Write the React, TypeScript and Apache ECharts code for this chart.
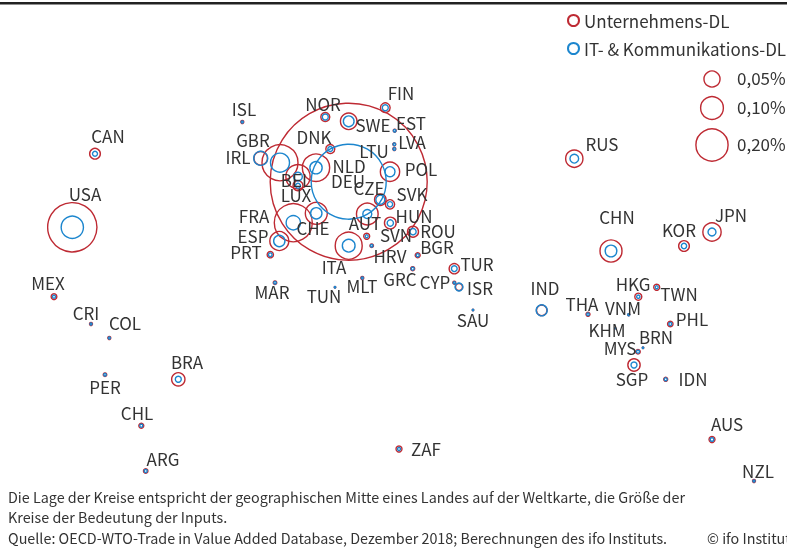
import React, { useEffect, useRef } from "react";
import * as echarts from "echarts";

const FONT = '"Noto Sans CJK SC", "Noto Sans", sans-serif';
const RED = "#BE2A33";
const BLUE = "#1C86CE";
const TEXT = "#333333";

const countries = ["ISL","NOR","SWE","FIN","EST","LVA","LTU","GBR","IRL","DNK","NLD","DEU","POL","BEL","LUX","CZE","SVK","CHE","AUT","HUN","FRA","ESP","PRT","ITA","SVN","ROU","HRV","BGR","GRC","TUR","CYP","ISR","MAR","MLT","TUN","SAU","CHN","JPN","KOR","HKG","TWN","IND","THA","VNM","PHL","KHM","BRN","MYS","SGP","IDN","CAN","USA","MEX","CRI","COL","PER","BRA","CHL","ARG","RUS","AUS","ZAF","NZL"];
const mapX = [242.3,325.3,348.7,385.3,394.7,394.3,394.3,280,260.7,330.3,316,348.7,390,298,298,380.3,390,316.3,367.3,390.3,293.3,279.3,270.3,348.7,366.7,413,371.7,417.7,412.7,454.3,454.3,459,275,362.3,335,473,611,712,684,638.3,656.7,541.7,588,628.7,670.3,615.3,643,638,634,665.7,95,72.3,54,91,109.3,105,178.3,141.3,145.7,574.3,712,399,754];
const mapY = [122,117,121.3,107.7,130.7,144.3,149,162.7,158.3,149,167.7,181.7,171.7,176.7,185.7,199.7,204.3,213.3,214,223,222.7,241,254.7,245.7,236.3,231.7,245.7,255.3,268.7,268.7,282.7,287,282.7,278,287.3,310,251,232,246,296.7,287.3,310.3,314.3,314.7,324,328.3,347.7,351.7,365,379.3,153.7,227.3,296.7,324,338,374.7,379.3,425.7,471,158.7,439.5,449,481];
const unternehmensDL = [.0017,.0156,.0525,.0182,.0017,.0017,.0017,.25,.0352,.0156,.1438,4.755,.0719,.1139,.0193,.0255,.0167,.0934,.0908,.0264,.2785,.0696,.0077,.1406,.0069,.0233,.0024,.0048,.0031,.0205,.0017,.0095,.0024,.0017,.0004,.0004,.0934,.0646,.0221,.0095,.0069,.0213,.0031,.0008,.0058,.0002,.0004,.0039,.0292,.0031,.0221,.4688,.0063,.0017,.0017,.0024,.0341,.0048,.0039,.0577,.0069,.0069,.0017];
const itDL = [.0008,.0069,.0221,.0069,.0012,.0012,.0012,.0696,.0378,.0048,.0292,1.085,.0193,.0146,.0048,.0156,.0054,.0246,.0156,.0077,.0394,.0246,.0026,.0311,.0017,.0077,.0012,.0017,.0017,.0063,.0008,.0123,.0012,.0008,.0004,.0004,.0264,.0123,.0054,.0021,.0017,.0233,.0012,.0008,.0017,.0002,.0004,.0017,.0069,.0017,.0048,.0959,.0017,.0008,.0008,.0012,.0069,.0017,.0017,.0146,.0024,.0017,.0008];
const labelX = [244,323,373,401,411,412,374,253,238,314,349,348,421,296,296,369,412,313,365,414,254,253,246,334,396,438,390,437,400,477,435,480,272,362,324,473,617,731,679,633,679,545,582,623,692,607,656,620,632,693,108,85,48,86,125,105,187,137,163,602,727,426,758];
const labelY = [108.5,103.5,124.5,92.5,122.5,141.5,150.5,139.5,156.5,136.5,165.5,180.5,168.5,179.5,194.5,187.5,193.5,227.5,222.5,215.5,215.5,235.5,251.5,266.5,234.5,230.5,255.5,246.5,278.5,263.5,281.5,287.5,291.5,285.5,295.5,319.5,216.5,214.5,229.5,283.5,293.5,287.5,303.5,307.5,318.5,329.5,336.5,347.5,378.5,378.5,135.5,193.5,282.5,312.5,322.5,386.5,361.5,412.5,458.5,143.5,423.5,448.5,470.5];
const sizeKeyX = [712, 712, 712];
const sizeKeyY = [79, 108, 145];
const sizeKeyValues = [0.05, 0.1, 0.2];
const sizeKeyLabels = ["0,05%", "0,10%", "0,20%"];
const notes = [
  "Die Lage der Kreise entspricht der geographischen Mitte eines Landes auf der Weltkarte, die Größe der",
  "Kreise der Bedeutung der Inputs.",
  "Quelle: OECD-WTO-Trade in Value Added Database, Dezember 2018; Berechnungen des ifo Instituts.",
];
const copyright = "© ifo Institut";

const bubbleSize = (v: number[]) => 72 * Math.sqrt(v[2]);

export default function App() {
  const ref = useRef<HTMLDivElement>(null);
  useEffect(() => {
    const chart = echarts.init(ref.current!, null, { renderer: "svg" });
    const ring = (color: string) => ({
      color: "transparent",
      borderColor: color,
      borderWidth: 1.4,
      opacity: 1,
    });
    chart.setOption({
      animation: false,
      textStyle: { fontFamily: FONT },
      grid: { left: 0, right: 0, top: 0, bottom: 0 },
      xAxis: { type: "value", min: 0, max: 787, show: false },
      yAxis: { type: "value", min: 0, max: 548, inverse: true, show: false },
      legend: {
        data: ["Unternehmens-DL", "IT- & Kommunikations-DL"],
        orient: "vertical",
        left: 567,
        top: 12,
        padding: 0,
        itemWidth: 11,
        itemHeight: 11,
        itemGap: 11,
        selectedMode: false,
        icon: "circle",
        textStyle: { fontFamily: FONT, fontSize: 17, color: TEXT },
      },
      graphic: [
        { type: "rect", shape: { x: 0, y: 2, width: 787, height: 2.5 }, style: { fill: "#222222" } },
        ...notes.map((t, i) => ({
          type: "text",
          x: 8,
          y: 496 + i * 20.5,
          style: { text: t, font: `14.35px ${FONT}`, fill: TEXT, textVerticalAlign: "middle" },
        })),
        {
          type: "text",
          x: 707,
          y: 537,
          style: { text: copyright, font: `14.35px ${FONT}`, fill: TEXT, textVerticalAlign: "middle" },
        },
      ],
      series: [
        {
          name: "Unternehmens-DL",
          type: "scatter",
          silent: true,
          clip: false,
          symbolSize: bubbleSize,
          itemStyle: ring(RED),
          data: countries.map((c, i) => ({ name: c, value: [mapX[i], mapY[i], unternehmensDL[i]] })),
        },
        {
          name: "IT- & Kommunikations-DL",
          type: "scatter",
          silent: true,
          clip: false,
          symbolSize: bubbleSize,
          itemStyle: ring(BLUE),
          data: countries.map((c, i) => ({ name: c, value: [mapX[i], mapY[i], itDL[i]] })),
        },
        {
          name: "Größe",
          type: "scatter",
          silent: true,
          symbolSize: bubbleSize,
          itemStyle: ring(RED),
          label: {
            show: true,
            position: "right",
            fontSize: 17,
            fontFamily: FONT,
            color: TEXT,
            formatter: (p: any) => sizeKeyLabels[p.dataIndex],
          },
          labelLayout: (p: any) => ({
            x: 737,
            y: p.rect.y + p.rect.height / 2 - 1.5,
            align: "left",
            verticalAlign: "middle",
          }),
          data: sizeKeyX.map((x, i) => [x, sizeKeyY[i], sizeKeyValues[i]]),
        },
        {
          name: "Länder",
          type: "scatter",
          silent: true,
          symbolSize: 1,
          itemStyle: { color: "transparent" },
          label: {
            show: true,
            position: "inside",
            opacity: 1,
            fontSize: 17,
            fontFamily: FONT,
            color: TEXT,
            formatter: (p: any) => p.name,
          },
          data: countries.map((c, i) => ({ name: c, value: [labelX[i], labelY[i]] })),
        },
      ],
    });
    return () => chart.dispose();
  }, []);
  return <div ref={ref} style={{ position: "fixed", left: 0, top: 0, width: 787, height: 548 }} />;
}
